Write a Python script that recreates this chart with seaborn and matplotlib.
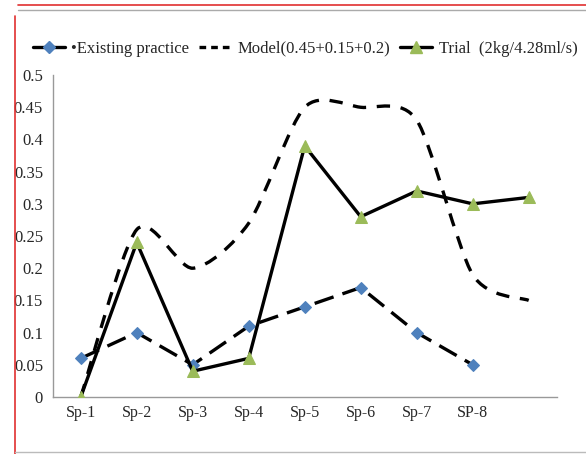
import numpy as np
import pandas as pd
import matplotlib
matplotlib.use("Agg")
import matplotlib.pyplot as plt
from matplotlib.path import Path
from matplotlib.patches import PathPatch
from matplotlib.lines import Line2D
import seaborn as sns

# data
categories = ["Sp-1", "Sp-2", "Sp-3", "Sp-4", "Sp-5", "Sp-6", "Sp-7", "SP-8", ""]
existing = [0.06, 0.10, 0.05, 0.11, 0.14, 0.17, 0.10, 0.05]
model = [0.0, 0.26, 0.20, 0.27, 0.45, 0.45, 0.43, 0.19, 0.15]
trial = [0.0, 0.24, 0.04, 0.06, 0.39, 0.28, 0.32, 0.30, 0.31]
y_ticks = [0, 0.05, 0.1, 0.15, 0.2, 0.25, 0.3, 0.35, 0.4, 0.45, 0.5]

sns.set_style("white")
plt.rcParams["font.family"] = ["Liberation Serif", "DejaVu Serif"]

fig = plt.figure(figsize=(5.86, 4.54), dpi=100)
ax = fig.add_axes([0.090, 0.1256, 0.860, 0.709])

df_exist = pd.DataFrame({"x": range(len(existing)), "y": existing})
df_trial = pd.DataFrame({"x": range(len(trial)), "y": trial})

blue = "#4F81BD"
green = "#9BBB59"

# existing practice: long dashes, blue diamonds
sns.lineplot(data=df_exist, x="x", y="y", ax=ax, color="black", lw=2.4,
             marker="D", markersize=6.5, markerfacecolor=blue, markeredgecolor=blue,
             zorder=3)
ax.lines[-1].set_dashes([6, 2.8])

# model: smoothed dashed curve (excel style smooth line through the points)
xs = np.arange(len(model), dtype=float)
ys = np.array(model, dtype=float)
verts = [(xs[0], ys[0])]
codes = [Path.MOVETO]
n = len(xs)
for i in range(n - 1):
    p0 = np.array([xs[max(i - 1, 0)], ys[max(i - 1, 0)]])
    p1 = np.array([xs[i], ys[i]])
    p2 = np.array([xs[i + 1], ys[i + 1]])
    p3 = np.array([xs[min(i + 2, n - 1)], ys[min(i + 2, n - 1)]])
    c1 = p1 + (p2 - p0) / 7.5
    c2 = p2 - (p3 - p1) / 7.5
    verts += [tuple(c1), tuple(c2), tuple(p2)]
    codes += [Path.CURVE4] * 3
patch = PathPatch(Path(verts, codes), fill=False, edgecolor="black", lw=2.4,
                  linestyle=(0, (4, 3.2)), zorder=2)
ax.add_patch(patch)

# trial: solid black with green triangles
sns.lineplot(data=df_trial, x="x", y="y", ax=ax, color="black", lw=2.4,
             marker="^", markersize=8, markerfacecolor=green, markeredgecolor=green,
             zorder=4)

ax.set_xlim(-0.5, len(categories) - 0.5)
ax.set_ylim(0, 0.5)
ax.set_yticks(y_ticks)
ax.set_yticklabels([f"{t:g}" for t in y_ticks], fontsize=12)
ax.set_xticks(range(len(categories)))
ax.set_xticklabels(categories, fontsize=11.5)
ax.set_xticks(np.arange(-0.5, len(categories)), minor=True)
ax.tick_params(axis="x", which="major", length=0, pad=6)
ax.tick_params(axis="x", which="minor", length=5, color="#999999", direction="out")
ax.tick_params(axis="y", length=4, color="#999999", direction="out", pad=3)
ax.set_xlabel("")
ax.set_ylabel("")
for s in ["top", "right"]:
    ax.spines[s].set_visible(False)
for s in ["left", "bottom"]:
    ax.spines[s].set_color("#999999")
    ax.spines[s].set_linewidth(1.0)

handles = [
    Line2D([], [], color="black", lw=2.4, marker="D", markersize=6.5,
           markerfacecolor=blue, markeredgecolor=blue, markevery=[1]),
    Line2D([], [], color="black", lw=2.4, linestyle=(0, (2, 1.5))),
    Line2D([], [], color="black", lw=2.4, marker="^", markersize=8,
           markerfacecolor=green, markeredgecolor=green),
]
labels = ["\u2022Existing practice", "Model(0.45+0.15+0.2)", "Trial  (2kg/4.28ml/s)"]
fig.legend(handles, labels, loc="center left", bbox_to_anchor=(0.045, 0.893),
           ncol=3, frameon=False, fontsize=12, handlelength=1.9,
           handletextpad=0.4, columnspacing=0.6, borderaxespad=0)

# page frame seen around the chart
fig.add_artist(Line2D([0.03, 1.0], [0.988, 0.988], color="#e03030", lw=1.2))
fig.add_artist(Line2D([0.03, 1.0], [0.978, 0.978], color="#aaaaaa", lw=1.0))
fig.add_artist(Line2D([0.025, 0.025], [0.0, 0.965], color="#e03030", lw=1.2))
fig.add_artist(Line2D([0.025, 1.0], [0.005, 0.005], color="#bbbbbb", lw=1.0))

fig.savefig("out.png", dpi=100)
